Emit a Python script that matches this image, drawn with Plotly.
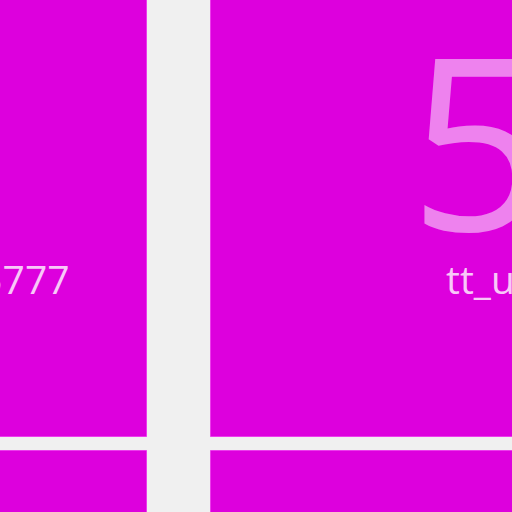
import plotly.graph_objects as go

# tile grid (row, col) and the texts shown on each tile
tile_rows = [0, 0, 1, 1]
tile_cols = [0, 1, 0, 1]
tile_values = ["5", "57", "", ""]
tile_labels = ["tt_user_5777", "tt_user_4213", "", ""]

TILE_W, GAP_X = 544, 64
TILE_H, GAP_Y = 480, 14
pitch_x = TILE_W + GAP_X
pitch_y = TILE_H + GAP_Y

x_left = [c * pitch_x for c in tile_cols]
y_top = [r * pitch_y for r in tile_rows]

fig = go.Figure()

fig.add_trace(go.Bar(
    x=[x + TILE_W / 2 for x in x_left],
    y=[TILE_H] * len(tile_rows),
    base=y_top,
    width=TILE_W,
    marker=dict(color="#dd00dd", line=dict(color="#ec3cec", width=1)),
    hoverinfo="skip",
    showlegend=False,
))

# big numbers
fig.add_trace(go.Scatter(
    x=[x + 198 for x in x_left],
    y=[y + 214 for y in y_top],
    mode="text",
    text=tile_values,
    textposition="middle right",
    textfont=dict(size=240, color="#ee82ee"),
    hoverinfo="skip",
    showlegend=False,
))

# labels
fig.add_trace(go.Scatter(
    x=[x + 235 for x in x_left],
    y=[y + 327 for y in y_top],
    mode="text",
    text=tile_labels,
    textposition="middle right",
    textfont=dict(size=39, color="#f8c8f8"),
    hoverinfo="skip",
    showlegend=False,
))

fig.update_layout(
    width=512,
    height=512,
    margin=dict(l=0, r=0, t=0, b=0),
    paper_bgcolor="#f0f0f0",
    plot_bgcolor="#f0f0f0",
    bargap=0,
    xaxis=dict(range=[397, 909], visible=False, fixedrange=True),
    yaxis=dict(range=[555, 43], visible=False, fixedrange=True),
)

fig.write_html("out.html", config={"displayModeBar": False},
               post_script="document.body.style.margin='0';")
